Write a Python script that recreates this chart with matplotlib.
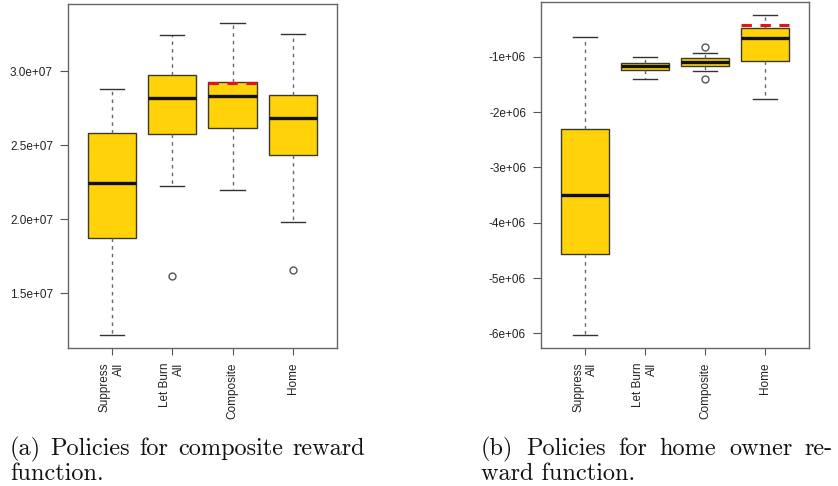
import matplotlib
matplotlib.use("Agg")
import matplotlib.pyplot as plt

plt.rcParams['font.family'] = ['Liberation Sans', 'DejaVu Sans']

labels = ["Suppress\nAll", "Let Burn\nAll", "Composite", "Home"]

# (a) composite reward: whisker low, q1, median, q3, whisker high
comp_wlo = [1.216e7, 2.222e7, 2.195e7, 1.979e7]
comp_q1 = [1.875e7, 2.575e7, 2.615e7, 2.431e7]
comp_med = [2.242e7, 2.820e7, 2.831e7, 2.681e7]
comp_q3 = [2.579e7, 2.975e7, 2.926e7, 2.838e7]
comp_whi = [2.879e7, 3.243e7, 3.326e7, 3.252e7]
comp_fliers = [[], [1.619e7], [], [1.657e7]]
comp_ref = (3, 2.921e7)   # red dashed marker: box position, value

# (b) home owner reward
home_wlo = [-6.024e6, -1.408e6, -1.253e6, -1.758e6]
home_q1 = [-4.562e6, -1.240e6, -1.162e6, -1.083e6]
home_med = [-3.491e6, -1.173e6, -1.101e6, -0.657e6]
home_q3 = [-2.312e6, -1.108e6, -1.023e6, -0.477e6]
home_whi = [-0.645e6, -1.000e6, -0.928e6, -0.247e6]
home_fliers = [[], [], [-0.825e6, -1.397e6], []]
home_ref = (4, -0.428e6)

ticks_a = [1.5e7, 2.0e7, 2.5e7, 3.0e7]
ticks_b = [-6e6, -5e6, -4e6, -3e6, -2e6, -1e6]
ylim_a = (1.130e7, 3.453e7)
ylim_b = (-6.265e6, -0.007e6)

cap_a = ["(a) Policies for composite reward", "function."]
cap_b = ["(b) Policies for home owner re-", "ward function."]

W, H = 838, 486
fig = plt.figure(figsize=(W / 100, H / 100), dpi=100)

def px_axes(x0, y0, x1, y1):
    return fig.add_axes([x0 / W, 1 - y1 / H, (x1 - x0) / W, (y1 - y0) / H])

def draw(ax, wlo, q1, med, q3, whi, fliers, ref, ticks, fmt, ylim, xlim):
    stats = []
    for i in range(len(labels)):
        stats.append(dict(whislo=wlo[i], q1=q1[i], med=med[i], q3=q3[i],
                          whishi=whi[i], fliers=fliers[i]))
    pos = list(range(1, len(labels) + 1))
    ax.bxp(stats, positions=pos, widths=0.8, patch_artist=True,
           boxprops=dict(facecolor='#FFD20A', edgecolor='#3a3a2a', linewidth=1.0),
           medianprops=dict(color='#111111', linewidth=2.4),
           whiskerprops=dict(color='#666666', linewidth=1.0, linestyle=(0, (2.5, 3))),
           capprops=dict(color='#333333', linewidth=1.0),
           capwidths=0.4,
           flierprops=dict(marker='o', markersize=5, markerfacecolor='none',
                           markeredgecolor='#555555', markeredgewidth=1.0))
    p, v = ref
    ax.hlines(v, p - 0.4, p + 0.4, colors='#E5121A', linewidth=2.2,
              linestyles=[(0, (3.4, 2.8))], zorder=4)
    ax.set_xlim(*xlim)
    ax.set_ylim(*ylim)
    ax.set_xticks(pos)
    ax.set_xticklabels(labels, rotation=90, ha='center', va='top',
                       multialignment='right', fontsize=8.5, color='#222222')
    ax.set_yticks(ticks)
    ax.set_yticklabels([fmt.format(t) for t in ticks], fontsize=8.5, color='#222222')
    ax.tick_params(axis='y', length=5.8, pad=5, color='#555555')
    ax.tick_params(axis='x', length=5, pad=5.5, color='#555555')
    for s in ax.spines.values():
        s.set_color('#666666')
        s.set_linewidth(1.0)

ax1 = px_axes(68, 4, 337, 348)
draw(ax1, comp_wlo, comp_q1, comp_med, comp_q3, comp_whi, comp_fliers, comp_ref,
     ticks_a, '{:.1e}', ylim_a, (0.275, 4.73))

ax2 = px_axes(541, 2, 809, 348)
draw(ax2, home_wlo, home_q1, home_med, home_q3, home_whi, home_fliers, home_ref,
     ticks_b, '{:.0e}', ylim_b, (0.26, 4.74))

# captions, first line justified between x0 and x1 (pixels)
renderer = fig.canvas.get_renderer()
cap = dict(fontsize=17.5, family='cmr10', va='baseline', ha='left', color='#111111')

def caption(lines, x0, x1):
    words = lines[0].split(' ')
    arts = [fig.text(0, 1 - 455 / H, w, **cap) for w in words]
    widths = [a.get_window_extent(renderer).width for a in arts]
    gap = (x1 - x0 - sum(widths)) / (len(words) - 1)
    x = x0
    for a, w in zip(arts, widths):
        a.set_x(x / W)
        x += w + gap
    fig.text(x0 / W, 1 - 480 / H, lines[1], **cap)

caption(cap_a, 10, 365)
caption(cap_b, 481, 833)

fig.savefig("out.png", dpi=100)
